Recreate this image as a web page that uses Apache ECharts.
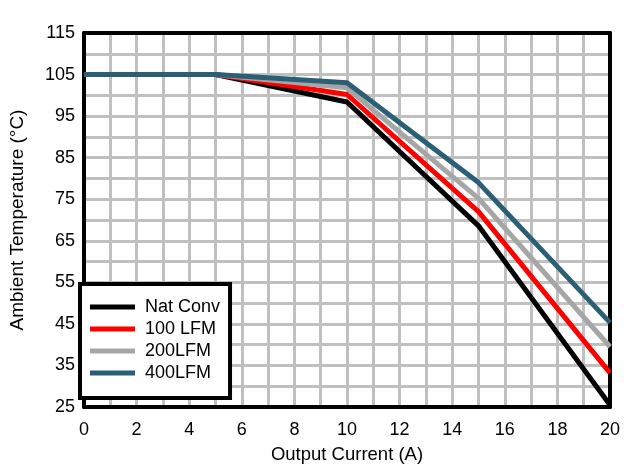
<!DOCTYPE html>
<html>
<head>
<meta charset="utf-8">
<script src="https://cdn.jsdelivr.net/npm/echarts@6/dist/echarts.min.js"></script>
<style>
  html, body { margin: 0; padding: 0; background: #fff; }
  #chart { width: 641px; height: 475px; }
</style>
</head>
<body>
<div id="chart"></div>
<script>
// output current (A)
var current = [0, 5, 10, 15, 20];
// ambient temperature (C) per airflow
var natConv = [105, 105, 98.4, 68.6, 25.5];
var lfm100 = [105, 105, 100.2, 72, 33.2];
var lfm200 = [105, 105, 101.8, 75.2, 39.5];
var lfm400 = [105, 105, 103, 79, 45.3];

var seriesNames = ['Nat Conv', '100 LFM', '200LFM', '400LFM'];
var seriesColors = ['#000000', '#ff0000', '#a6a6a6', '#2a5f76'];
var seriesValues = [natConv, lfm100, lfm200, lfm400];

var font = 'Arial, "Liberation Sans", sans-serif';

var myChart = echarts.init(document.getElementById('chart'));

var series = seriesValues.map(function (vals, i) {
  return {
    name: seriesNames[i],
    type: 'line',
    data: current.map(function (x, j) { return [x, vals[j]]; }),
    showSymbol: false,
    symbol: 'none',
    lineStyle: { color: seriesColors[i], width: 5 },
    itemStyle: { color: seriesColors[i] },
    animation: false
  };
});

var gridLine = { color: '#c0c0c0', width: 3 };
// only draws the thick black frame round the plot
function frameAxis(pos, min, max) {
  return {
    type: 'value', position: pos, min: min, max: max, z: 3,
    axisLine: { show: true, onZero: false, lineStyle: { color: '#000', width: 4 } },
    axisTick: { show: false },
    axisLabel: { show: false },
    splitLine: { show: false }
  };
}

var option = {
  animation: false,
  grid: { left: 81, right: 31, top: 33, bottom: 68 },
  legend: {
    orient: 'vertical',
    left: 80,
    top: 284,
    padding: [14, 10, 16, 10],
    itemGap: 4,
    itemWidth: 45,
    itemHeight: 5,
    icon: 'rect',
    z: 10,
    backgroundColor: '#fff',
    borderColor: '#000',
    borderWidth: 4,
    textStyle: { fontFamily: font, fontSize: 18, color: '#000', padding: [0, 0, 0, 5] },
    data: seriesNames
  },
  xAxis: [{
    type: 'value',
    min: 0, max: 20, interval: 2,
    name: 'Output Current (A)',
    nameLocation: 'middle',
    nameGap: 38,
    nameTextStyle: { fontFamily: font, fontSize: 18.5, color: '#000' },
    axisLine: { show: false },
    axisTick: { show: false },
    axisLabel: { fontFamily: font, fontSize: 18, color: '#000', margin: 14 },
    splitLine: { show: true, lineStyle: gridLine },
    minorTick: { show: false, splitNumber: 2 },
    minorSplitLine: { show: true, lineStyle: gridLine }
  }, frameAxis('bottom', 0, 20), frameAxis('top', 0, 20)],
  yAxis: [{
    type: 'value',
    min: 25, max: 115, interval: 10,
    name: 'Ambient Temperature (°C)',
    nameLocation: 'middle',
    nameGap: 57,
    nameTextStyle: { fontFamily: font, fontSize: 19, color: '#000' },
    axisLine: { show: false },
    axisTick: { show: false },
    axisLabel: { fontFamily: font, fontSize: 18, color: '#000', margin: 9 },
    splitLine: { show: true, lineStyle: gridLine },
    minorTick: { show: false, splitNumber: 2 },
    minorSplitLine: { show: true, lineStyle: gridLine }
  }, frameAxis('left', 25, 115), frameAxis('right', 25, 115)],
  series: series
};

myChart.setOption(option);
</script>
</body>
</html>
